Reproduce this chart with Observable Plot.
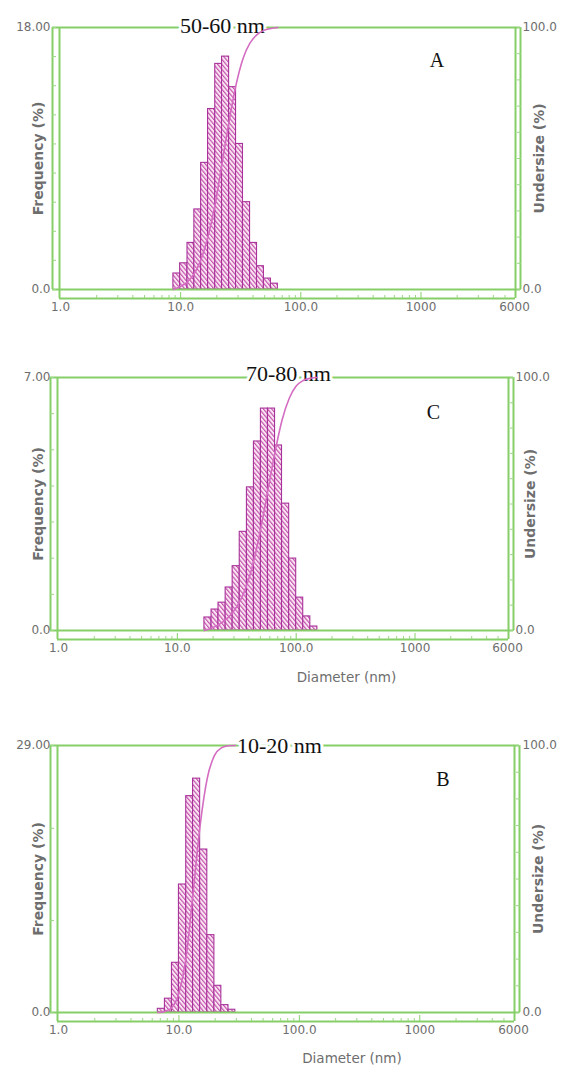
<!DOCTYPE html>
<html><head><meta charset="utf-8">
<script src="https://cdn.jsdelivr.net/npm/d3@7"></script>
<script src="https://cdn.jsdelivr.net/npm/@observablehq/plot@0.6"></script>
<style>
body{margin:0;background:#fff;}
#wrap{position:relative;width:561px;height:1066px;overflow:hidden;background:#fff;}
.panel{position:absolute;left:0;width:561px;}
.panel svg{position:absolute;left:0;top:0;overflow:visible;}
</style></head><body>
<svg width="0" height="0" style="position:absolute">
<defs><pattern id="hatch" patternUnits="userSpaceOnUse" width="3.2" height="3.2" patternTransform="rotate(-40)">
<rect width="3.2" height="3.2" fill="#fbe6f4"/>
<line x1="0.6" y1="0" x2="0.6" y2="3.2" stroke="#c14fab" stroke-width="1.15"/>
</pattern></defs></svg>
<div id="wrap"></div>
<script>
// ---- shared axis data ----
const xTickValues = [1, 10, 100, 1000, 6000];
const xTickLabels = ["1.0", "10.0", "100.0", "1000", "6000"];
const xMajorTicks = [10, 100, 1000];
const xMinorTicks = [2,3,4,5,6,7,8,9,20,30,40,50,60,70,80,90,200,300,400,500,600,700,800,900,2000,3000,4000,5000];
const underTickValues = [0,10,20,30,40,50,60,70,80,90,100];
const underLabelValues = [0, 100];
const underLabelTexts = ["0.0", "100.0"];

// ---- Panel A (50-60 nm) ----
const diamA = [8.7, 9.9, 11.4, 13.0, 14.8, 16.9, 19.4, 22.1, 25.3, 28.9, 33.0, 37.8, 43.2, 49.3, 56.4, 64.4];
const freqA = [1.1, 1.8, 3.2, 5.5, 8.7, 12.4, 15.5, 16.0, 13.9, 10.0, 6.0, 3.2, 1.6, 0.75, 0.4];
const underA = [0, 1.1, 2.9, 6.1, 11.6, 20.3, 32.7, 48.2, 64.2, 78.1, 88.1, 94.1, 97.3, 98.9, 99.6, 100];
const freqTicksA = [0,2,4,6,8,10,12,14,16,18];
const freqLabelValuesA = [0, 18];
const freqLabelTextsA = ["0.0", "18.00"];

// ---- Panel C (70-80 nm) ----
const diamC = [16.9, 19.4, 22.2, 25.5, 29.2, 33.5, 38.5, 44.1, 50.5, 57.9, 66.4, 76.0, 87.3, 100, 114.6, 131.5, 150.7];
const freqC = [0.36, 0.58, 0.77, 1.19, 1.78, 2.73, 3.96, 5.23, 6.14, 6.14, 5.12, 3.51, 1.99, 0.91, 0.39, 0.11];
const underC = [0, 0.9, 2.3, 4.2, 7.1, 11.4, 18.1, 27.8, 40.6, 55.6, 70.6, 83.1, 91.7, 96.6, 98.8, 99.7, 100];
const freqTicksC = [0,1,2,3,4,5,6,7];
const freqLabelValuesC = [0, 7];
const freqLabelTextsC = ["0.0", "7.00"];

// ---- Panel B (10-20 nm) ----
const diamB = [6.68, 7.65, 8.75, 10.0, 11.5, 13.1, 15.0, 17.2, 19.7, 22.5, 25.8, 29.4];
const freqB = [0.4, 1.5, 5.4, 13.9, 23.5, 25.4, 17.7, 8.4, 2.9, 0.8, 0.3];
const underB = [0, 0.4, 1.9, 7.3, 21.2, 44.7, 70.1, 87.8, 96.2, 99.1, 99.9, 100];
const freqTicksB = [0,10,20,29];
const freqLabelValuesB = [0, 29];
const freqLabelTextsB = ["0.0", "29.00"];

const GREEN = "#86cf68";
const GREEN2 = "#9ad884";
const GREY = "#6e6e6e";
const BAR = "#a8329a";
const CURVE = "#d46cc2";
const SANS = "DejaVu Sans, sans-serif";
const SERIF = "Liberation Serif, Times New Roman, serif";

function panel(o) {
  const div = document.createElement("div");
  div.className = "panel";
  div.style.top = o.top + "px";
  div.style.height = o.height + "px";
  document.getElementById("wrap").appendChild(div);

  const dims = {
    width: 561, height: o.height,
    marginTop: o.mt, marginBottom: o.mb, marginLeft: o.ml, marginRight: o.mr
  };
  const rows = o.freq.map((f, i) => ({x1: o.diam[i], x2: o.diam[i + 1], f}));
  const lineStyle = {stroke: GREEN, strokeWidth: 2};

  const base = Plot.plot({
    ...dims,
    style: {background: "transparent", overflow: "visible"},
    x: {type: "log", domain: [1, 6000], axis: null},
    y: {domain: [0, o.ymax], axis: null, label: null},
    marks: [
      Plot.rectY(rows, {x1: "x1", x2: "x2", y: "f", fill: "url(#hatch)", stroke: BAR, strokeWidth: 1.1}),
      // frame lines
      Plot.ruleY([0], {...lineStyle, insetLeft: -8, insetRight: -6}),
      Plot.ruleY([0], {...lineStyle, dy: 9, insetLeft: -1, insetRight: -1}),
      Plot.ruleY([o.ymax], {...lineStyle, insetLeft: -8, insetRight: -6}),
      Plot.ruleX([1], {...lineStyle, dx: -8}),
      Plot.ruleX([1], {...lineStyle, dx: -1, insetBottom: -9}),
      Plot.ruleX([6000], {...lineStyle, dx: 1, insetBottom: -9}),
      Plot.ruleX([6000], {...lineStyle, dx: 6}),
      // ticks
      Plot.axisY({ticks: o.freqTicks, tickSize: 4, dx: -4, tickFormat: () => "", label: null, stroke: GREEN2}),
      Plot.axisX({ticks: xMinorTicks, tickSize: 3, dy: 6, tickFormat: () => "", label: null, stroke: GREEN2}),
      Plot.axisX({ticks: xMajorTicks, tickSize: 6, dy: 3, tickFormat: () => "", label: null, stroke: GREEN}),
      // tick labels
      Plot.text(xTickValues, {x: d => d, frameAnchor: "bottom", dy: 18, lineAnchor: "middle",
        text: (d, i) => xTickLabels[i], fill: GREY, fontFamily: SANS, fontSize: 12}),
      Plot.text(o.freqLabelValues, {y: d => d, frameAnchor: "left", dx: -(o.ml - 50), textAnchor: "end",
        lineAnchor: "middle", text: (d, i) => o.freqLabelTexts[i], fill: GREY, fontFamily: SANS, fontSize: 12}),
      Plot.text(["Frequency (%)"], {frameAnchor: "left", dx: -(o.ml - 38), rotate: -90,
        textAnchor: "middle", lineAnchor: "middle",
        fill: GREY, fontFamily: SANS, fontSize: 14, fontWeight: "bold", letterSpacing: "0.5px"}),
      o.diameter ? Plot.text(["Diameter (nm)"], {frameAnchor: "bottom", dx: o.diaDx, dy: o.diaDy,
        lineAnchor: "middle", textAnchor: "middle", fill: GREY, fontFamily: SANS, fontSize: 13.5}) : null,
      // title and panel letter
      Plot.text([o.title], {frameAnchor: "top", dx: o.titleDx, dy: o.titleDy, lineAnchor: "middle",
        textAnchor: "middle", fill: "#111", stroke: "white", strokeWidth: 6, fontFamily: SERIF, fontSize: 22}),
      Plot.text([o.letter], {frameAnchor: "top-right", dx: o.letterDx, dy: o.letterDy, lineAnchor: "middle",
        textAnchor: "middle", fill: "#111", fontFamily: SERIF, fontSize: 20})
    ].filter(Boolean)
  });
  div.appendChild(base);

  const curveRows = o.diam.map((d, i) => ({d, u: o.under[i]}));
  const over = Plot.plot({
    ...dims,
    style: {background: "transparent", overflow: "visible"},
    x: {type: "log", domain: [1, 6000], axis: null},
    y: {domain: [0, 100], axis: null, label: null},
    marks: [
      Plot.line(curveRows, {x: "d", y: "u", curve: "monotone-x", stroke: CURVE, strokeWidth: 1.6}),
      Plot.axisY({anchor: "right", ticks: underTickValues, tickSize: 4, dx: 2, tickFormat: () => "", label: null, stroke: GREEN2}),
      Plot.text(underLabelValues, {y: d => d, frameAnchor: "right", dx: o.rdx, textAnchor: "start",
        lineAnchor: "middle", text: (d, i) => underLabelTexts[i], fill: GREY, fontFamily: SANS, fontSize: 12}),
      Plot.text(["Undersize (%)"], {frameAnchor: "right", dx: o.ulDx, rotate: -90,
        textAnchor: "middle", lineAnchor: "middle",
        fill: GREY, fontFamily: SANS, fontSize: 14, fontWeight: "bold", letterSpacing: "0.5px"})
    ]
  });
  div.appendChild(over);
}

panel({top: 0, height: 320, mt: 27, mb: 31, ml: 60, mr: 47,
  diam: diamA, freq: freqA, under: underA, ymax: 18, freqTicks: freqTicksA,
  freqLabelValues: freqLabelValuesA, freqLabelTexts: freqLabelTextsA,
  title: "50-60 nm", titleDx: -65, titleDy: -1.5,
  letter: "A", letterDx: -77.5, letterDy: 33, diameter: false, rdx: 8, ulDx: 25});

panel({top: 330, height: 360, mt: 47, mb: 60, ml: 58, mr: 54,
  diam: diamC, freq: freqC, under: underC, ymax: 7, freqTicks: freqTicksC,
  freqLabelValues: freqLabelValuesC, freqLabelTexts: freqLabelTextsC,
  title: "70-80 nm", titleDx: 5.5, titleDy: -3.5,
  letter: "C", letterDx: -74, letterDy: 35.5, diameter: true, diaDx: 63.5, diaDy: 47, rdx: 8, ulDx: 23});

panel({top: 700, height: 366, mt: 45, mb: 54, ml: 58, mr: 48,
  diam: diamB, freq: freqB, under: underB, ymax: 29, freqTicks: freqTicksB,
  freqLabelValues: freqLabelValuesB, freqLabelTexts: freqLabelTextsB,
  title: "10-20 nm", titleDx: -6.5, titleDy: 0,
  letter: "B", letterDx: -70.5, letterDy: 34.5, diameter: true, diaDx: 66, diaDy: 46, rdx: 9, ulDx: 25});
</script>
</body></html>
